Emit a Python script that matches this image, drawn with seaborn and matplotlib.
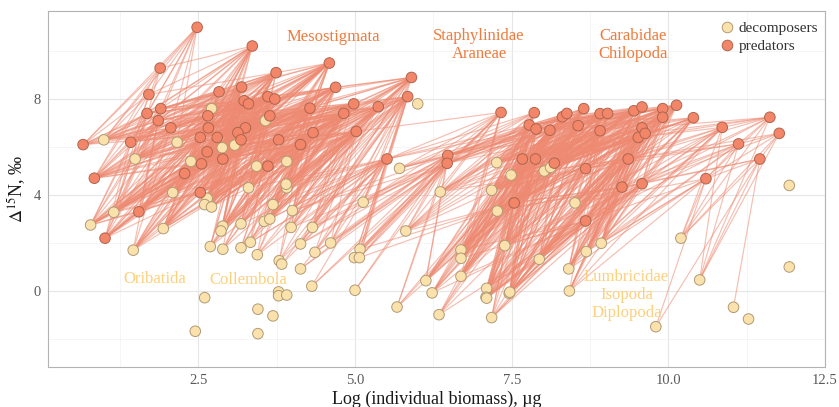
import numpy as np
import pandas as pd
import matplotlib
matplotlib.use("Agg")
import matplotlib.pyplot as plt
from matplotlib.collections import LineCollection
import seaborn as sns

# ---------------- data ----------------
dec_x = [0.99, 2.71, 3.57, 2.16, 2.88, 3.08, 1.49, 2.38, 3.43, 3.91, 3.30, 3.91, 3.90, 2.09,
         2.64, 2.60, 2.71, 1.15, 0.78, 1.94, 1.46, 3.69, 4.00, 2.89, 2.86, 3.18, 3.55, 3.64,
         3.98, 4.32, 2.69, 2.89, 3.18, 3.33, 3.44, 3.79, 3.83, 4.13, 4.36, 4.61, 4.13, 4.31,
         3.78, 3.78, 3.91, 2.60, 3.45, 3.69, 2.45, 3.45, 6.00, 5.71, 7.26, 7.49, 8.02, 8.12,
         6.36, 7.18, 5.13, 7.27, 8.51, 5.81, 5.08, 4.99, 5.07, 6.69, 6.69, 7.39, 8.69, 7.94,
         8.41, 6.69, 6.13, 5.00, 6.23, 7.10, 7.09, 7.10, 7.46, 7.47, 8.42, 5.67, 6.34, 7.18,
         11.93, 10.20, 8.93, 11.93, 10.50, 11.04, 11.28, 9.80]
dec_y = [6.30, 7.60, 7.10, 6.20, 5.97, 6.08, 5.50, 5.40, 5.20, 5.40, 4.30, 4.30, 4.45, 4.10,
         3.86, 3.60, 3.50, 3.28, 2.75, 2.60, 1.70, 3.60, 3.35, 2.70, 2.50, 2.80, 2.90, 3.00,
         2.65, 2.65, 1.85, 1.74, 1.80, 2.03, 1.51, 1.26, 1.12, 1.96, 1.61, 2.00, 0.92, 0.20,
         -0.04, -0.20, -0.17, -0.28, -0.76, -1.04, -1.68, -1.78, 7.80, 5.11, 5.35, 4.83, 5.00, 5.15,
         4.13, 4.20, 3.70, 3.33, 3.67, 2.50, 1.74, 1.39, 1.39, 1.71, 1.36, 1.89, 1.64, 1.32,
         0.92, 0.61, 0.43, 0.03, -0.08, 0.11, -0.26, -0.30, -0.10, -0.05, 0.00, -0.67, -0.99, -1.11,
         4.40, 2.20, 1.99, 1.00, 0.46, -0.68, -1.17, -1.49]

pred_x = [2.48, 3.36, 1.89, 4.59, 3.74, 1.71, 2.83, 3.19, 4.69, 3.61, 3.72, 3.23, 3.30, 1.90,
          1.68, 2.65, 4.28, 3.64, 1.86, 2.06, 2.66, 3.25, 3.13, 4.33, 2.53, 2.80, 3.18, 3.78,
          4.13, 0.66, 1.42, 2.64, 2.89, 2.55, 3.61, 2.28, 0.84, 2.53, 1.55, 1.01, 5.90, 5.84,
          5.37, 4.98, 4.82, 5.02, 5.51, 6.48, 6.47, 7.33, 7.86, 7.78, 7.89, 8.11, 8.31, 8.38,
          8.65, 8.56, 7.67, 7.88, 8.18, 8.68, 7.54, 8.68, 8.91, 9.03, 9.45, 9.58, 9.91, 10.13,
          9.91, 10.40, 10.86, 11.62, 11.77, 11.12, 11.46, 10.60, 8.91, 9.58, 9.52, 9.63, 9.36,
          9.26, 9.58]
pred_y = [10.99, 10.21, 9.29, 9.50, 9.10, 8.19, 8.30, 8.50, 8.49, 8.10, 8.00, 7.93, 7.80, 7.60,
          7.40, 7.30, 7.62, 7.30, 7.10, 6.80, 6.80, 6.80, 6.60, 6.60, 6.40, 6.40, 6.30, 6.30,
          6.10, 6.10, 6.20, 5.80, 5.50, 5.30, 5.20, 4.90, 4.70, 4.10, 3.30, 2.20, 8.90, 8.10,
          7.68, 7.80, 7.40, 6.65, 5.50, 5.65, 5.32, 7.44, 7.43, 6.92, 6.75, 6.70, 7.26, 7.40,
          7.60, 6.89, 5.50, 5.50, 5.33, 5.10, 3.67, 2.92, 7.39, 7.40, 7.51, 7.67, 7.60, 7.74,
          7.24, 7.22, 6.82, 7.24, 6.57, 6.13, 5.50, 4.68, 6.68, 6.80, 6.40, 6.57, 5.50,
          4.33, 4.47]

groups = ["decomposers", "predators"]
group_labels = [("Mesostigmata", 4.65, 10.6, "predators"),
                ("Staphylinidae\nAraneae", 6.98, 10.25, "predators"),
                ("Carabidae\nChilopoda", 9.44, 10.25, "predators"),
                ("Oribatida", 1.80, 0.50, "decomposers"),
                ("Collembola", 3.30, 0.46, "decomposers"),
                ("Lumbricidae\nIsopoda\nDiplopoda", 9.33, -0.17, "decomposers")]

# ---------------- styling ----------------
sns.set_theme(style="whitegrid")
plt.rcParams["font.family"] = ["Liberation Serif", "DejaVu Serif"]
plt.rcParams["mathtext.fontset"] = "stix"

fill = {"decomposers": "#FBE2AC", "predators": "#F38668"}
edge = {"decomposers": "#B09A74", "predators": "#AE654E"}
label_col = {"decomposers": "#FDD07C", "predators": "#F07B3C"}

df = pd.DataFrame({
    "biomass": dec_x + pred_x,
    "d15N": dec_y + pred_y,
    "group": [groups[0]] * len(dec_x) + [groups[1]] * len(pred_x),
})

# trophic links: predator -> smaller, lower-d15N nodes
segs = []
px = np.array(pred_x); py = np.array(pred_y)
allx = np.array(df["biomass"]); ally = np.array(df["d15N"])
for i in range(len(px)):
    dx = px[i] - allx
    dy = py[i] - ally
    dymax = 5.4 if px[i] < 5.6 else 7.0
    m = (dx >= 0.3) & (dx <= 2.5) & (dy >= 0.4) & (dy <= dymax)
    for j in np.where(m)[0]:
        segs.append([(px[i], py[i]), (allx[j], ally[j])])

W, H = 839, 407
fig = plt.figure(figsize=(W / 100, H / 100), dpi=100)
ax = fig.add_axes([48 / W, 1 - 367 / H, (825 - 48) / W, (367 - 11) / H])

lc = LineCollection(segs, colors="#EE8A72", linewidths=0.85, alpha=0.55, zorder=1)
ax.add_collection(lc)

sns.scatterplot(data=df, x="biomass", y="d15N", hue="group", hue_order=groups,
                palette=fill, s=58, edgecolor="#A07858",
                linewidth=0.7, ax=ax, zorder=3)
pts = ax.collections[-1]
pts.set_edgecolors([edge[g] for g in df["group"]])

for txt, x, y, g in group_labels:
    ax.text(x, y, txt, color=label_col[g], fontsize=12, ha="center", va="center",
            linespacing=1.15, zorder=5)

ax.set_xlim(0.1, 12.5)
ax.set_ylim(-3.17, 11.67)
ax.set_xticks([2.5, 5.0, 7.5, 10.0, 12.5])
ax.set_xticklabels(["2.5", "5.0", "7.5", "10.0", "12.5"])
ax.set_yticks([0, 4, 8])
ax.set_xticks([1.25, 3.75, 6.25, 8.75, 11.25], minor=True)
ax.set_yticks([-2, 2, 6, 10], minor=True)
ax.grid(which="major", color="#E6E6E6", linewidth=0.8)
ax.grid(which="minor", color="#F2F2F2", linewidth=0.5)
ax.set_axisbelow(True)
for s in ax.spines.values():
    s.set_color("#B3B3B3")
    s.set_linewidth(0.8)
ax.tick_params(which="major", length=3, color="#B3B3B3", labelsize=10.5,
               labelcolor="#5A5A5A", pad=2)
ax.tick_params(which="minor", length=0)
ax.set_xlabel("Log (individual biomass), µg", fontsize=13, color="#1A1A1A", labelpad=3)
ax.set_ylabel(r"$\Delta^{15}$N, ‰", fontsize=13, color="#1A1A1A", labelpad=4)

leg = ax.legend(loc="upper right", bbox_to_anchor=(1.005, 1.0), frameon=False,
                fontsize=11, handlelength=0.8, handletextpad=0.35, borderaxespad=0.3,
                labelspacing=0.25, markerscale=1.0)
for h, g in zip(leg.legend_handles, groups):
    if hasattr(h, "set_markeredgecolor"):
        h.set_markeredgecolor(edge[g])
    else:
        h.set_edgecolor(edge[g])
for t in leg.get_texts():
    t.set_color("#333333")

fig.savefig("out.png", dpi=100)
